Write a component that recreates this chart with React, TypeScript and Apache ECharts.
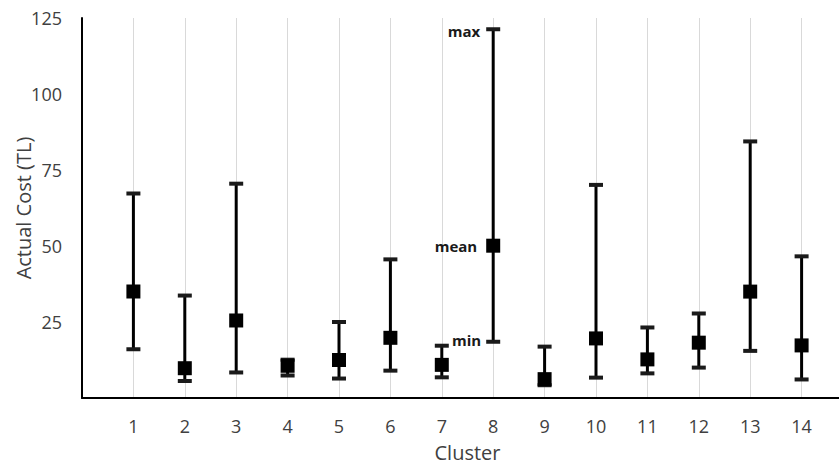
import React, { useEffect, useRef } from "react";
import * as echarts from "echarts";

const clusters = [1, 2, 3, 4, 5, 6, 7, 8, 9, 10, 11, 12, 13, 14];
const minValues = [16.0, 5.6, 8.4, 7.4, 6.4, 9.0, 6.8, 18.5, 4.2, 6.7, 8.1, 10.0, 15.5, 6.1];
const meanValues = [35.0, 9.8, 25.5, 10.6, 12.5, 19.8, 10.9, 50.1, 6.2, 19.6, 12.7, 18.2, 35.0, 17.3];
const maxValues = [67.3, 33.7, 70.5, 12.6, 25.0, 45.6, 17.2, 121.3, 16.9, 70.1, 23.2, 27.8, 84.4, 46.6];
const yTicks = [0, 25, 50, 75, 100, 125];
const annotatedCluster = 8;
const annotationLabels = { max: "max", mean: "mean", min: "min" };

const FONT = '"Open Sans", "Noto Sans", sans-serif';

export default function App() {
  const ref = useRef<HTMLDivElement>(null);

  useEffect(() => {
    document.body.style.margin = "0";
    const chart = echarts.init(ref.current!, null, { renderer: "svg" });
    const data = clusters.map((c, i) => [c, minValues[i], meanValues[i], maxValues[i]]);

    const option: any = {
      animation: false,
      backgroundColor: "#ffffff",
      grid: { left: 82, top: 18, bottom: 70, right: -14, containLabel: false, outerBoundsMode: "none" },
      xAxis: {
        type: "value",
        min: 0,
        max: 15,
        interval: 1,
        name: "Cluster",
        nameLocation: "middle",
        nameGap: 44,
        nameMoveOverlap: false,
        nameTextStyle: { fontFamily: FONT, fontSize: 20, color: "#404040" },
        axisLine: { show: true, onZero: false, lineStyle: { color: "#000000", width: 2 } },
        axisTick: { show: false },
        axisLabel: {
          margin: 19,
          fontFamily: FONT,
          fontSize: 18,
          color: "#404040",
          formatter: (v: number) => (clusters.indexOf(v) >= 0 ? String(v) : ""),
        },
        splitLine: { show: true, lineStyle: { color: "#d9d9d9", width: 1 } },
      },
      yAxis: {
        type: "value",
        min: yTicks[0],
        max: yTicks[yTicks.length - 1],
        interval: 25,
        name: "Actual Cost (TL)",
        nameLocation: "middle",
        nameGap: 49,
        nameMoveOverlap: false,
        nameTextStyle: { fontFamily: FONT, fontSize: 20, color: "#404040" },
        axisLine: { show: true, lineStyle: { color: "#000000", width: 2 } },
        axisTick: { show: false },
        axisLabel: {
          margin: 20,
          fontFamily: FONT,
          fontSize: 18,
          color: "#404040",
          formatter: (v: number) => (v === 0 ? "" : String(v)),
        },
        splitLine: { show: false },
      },
      series: [
        {
          type: "custom",
          data,
          encode: { x: 0, y: [1, 2, 3] },
          renderItem: (params: any, api: any) => {
            const x = api.value(0);
            const lo = api.coord([x, api.value(1)]);
            const mid = api.coord([x, api.value(2)]);
            const hi = api.coord([x, api.value(3)]);
            const px = lo[0];
            const capW = 14;
            const sq = 14;
            const children: any[] = [
              {
                type: "line",
                shape: { x1: px, y1: hi[1], x2: px, y2: lo[1] },
                style: { stroke: "#000000", lineWidth: 3 },
              },
              {
                type: "rect",
                shape: { x: px - capW / 2, y: hi[1] - 2, width: capW, height: 4 },
                style: { fill: "#1a1a1a" },
              },
              {
                type: "rect",
                shape: { x: px - capW / 2, y: lo[1] - 2, width: capW, height: 4 },
                style: { fill: "#1a1a1a" },
              },
              {
                type: "rect",
                shape: { x: px - sq / 2, y: mid[1] - sq / 2, width: sq, height: sq },
                style: { fill: "#000000" },
              },
            ];
            if (x === annotatedCluster) {
              const ts = (text: string, tx: number, ty: number) => ({
                type: "text",
                style: {
                  text,
                  x: tx,
                  y: ty,
                  align: "right",
                  verticalAlign: "middle",
                  fontFamily: FONT,
                  fontWeight: "bold",
                  fontSize: 15,
                  fill: "#1a1a1a",
                },
              });
              children.push(ts(annotationLabels.max, px - 13, hi[1] + 2));
              children.push(ts(annotationLabels.mean, px - 16, mid[1]));
              children.push(ts(annotationLabels.min, px - 12, lo[1] - 2));
            }
            return { type: "group", children };
          },
        },
      ],
    };

    chart.setOption(option);
    return () => chart.dispose();
  }, []);

  return (
    <div
      ref={ref}
      style={{ position: "fixed", left: 0, top: 0, width: 839, height: 468 }}
    />
  );
}
